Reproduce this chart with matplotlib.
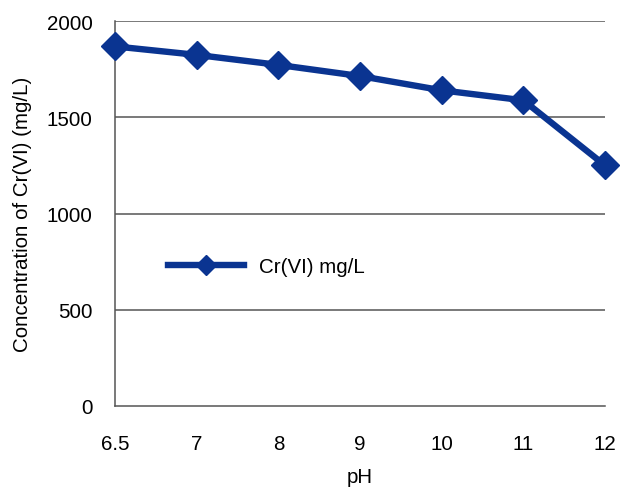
import matplotlib
matplotlib.use("Agg")
import matplotlib.pyplot as plt

ph_labels = ["6.5", "7", "8", "9", "10", "11", "12"]
cr_values = [1868, 1824, 1772, 1714, 1640, 1588, 1250]
y_ticks = [0, 500, 1000, 1500, 2000]
series_name = "Cr(VI) mg/L"

plt.rcParams['font.family'] = ['Liberation Sans', 'DejaVu Sans']
color = '#0A3491'
grid_color = '#555555'
fs = 14.8

fig = plt.figure(figsize=(6.21, 4.89), dpi=100)
ax = fig.add_axes([115/621, 1-407/489, (605-115)/621, (407-22)/489])

x = list(range(len(ph_labels)))
ax.plot(x, cr_values, color=color, lw=4.6, marker='D', ms=14,
        clip_on=False, zorder=5, label=series_name)

ax.set_xlim(0, len(ph_labels) - 1)
ax.set_ylim(0, 2000)
ax.set_yticks(y_ticks)
ax.set_xticks(x)
ax.set_xticklabels(ph_labels)
for yv in y_ticks[1:]:
    ax.axhline(yv, color=grid_color, lw=1.1, zorder=1)
for s in ['top', 'right']:
    ax.spines[s].set_visible(False)
for s in ['left', 'bottom']:
    ax.spines[s].set_color(grid_color)
    ax.spines[s].set_linewidth(1.1)
ax.tick_params(axis='both', length=0, labelsize=fs)
ax.tick_params(axis='x', pad=20)
ax.tick_params(axis='y', pad=16)

ax.set_xlabel("pH", fontsize=fs, labelpad=10)
ax.set_ylabel("Concentration of Cr(VI) (mg/L)", fontsize=fs, labelpad=11)

leg = ax.legend(loc='upper left', bbox_to_anchor=(0.07, 0.435), frameon=False,
                fontsize=fs, handlelength=3.7, handletextpad=0.75,
                markerscale=0.75)

fig.savefig("out.png", dpi=100)
